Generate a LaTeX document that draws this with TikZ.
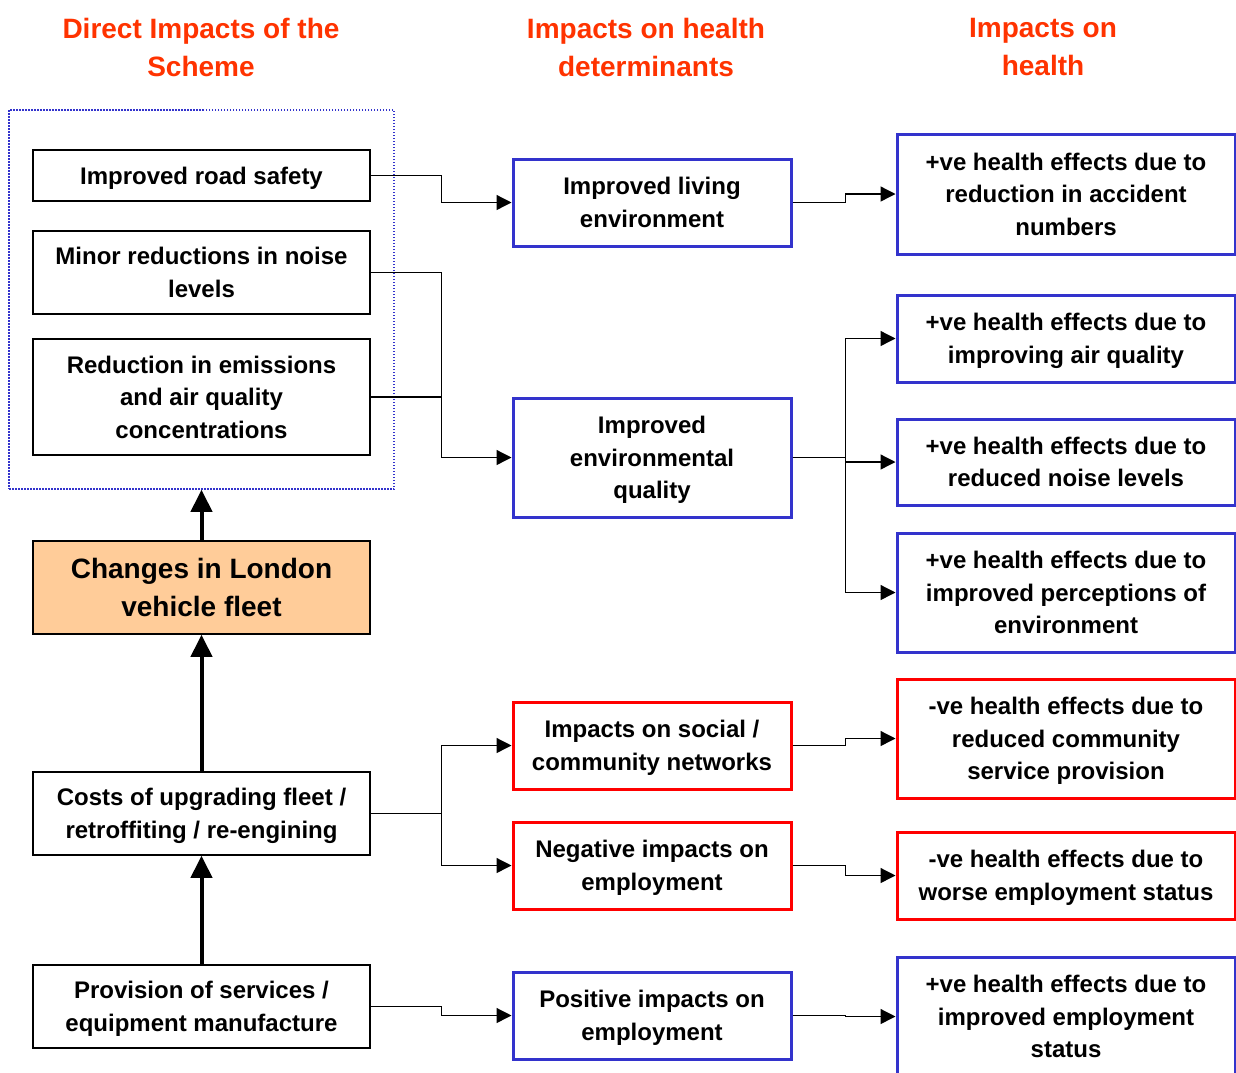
\documentclass[tikz,border=0pt]{standalone}
\usepackage{fontspec}
\setmainfont{Liberation Sans}
\usetikzlibrary{arrows.meta}
\definecolor{bblue}{RGB}{51,51,204}
\definecolor{rred}{RGB}{255,0,0}
\definecolor{hdr}{RGB}{255,51,0}
\definecolor{peach}{RGB}{255,204,153}
\begin{document}
\begin{tikzpicture}[x=1pt,y=-1pt,
  every node/.style={inner sep=0pt, align=center, font=\fontsize{24}{32.5}\selectfont\bfseries},
  hdrtxt/.style={font=\fontsize{28}{38}\selectfont\bfseries, text=hdr},
  blk/.style={draw=black, line width=1.5pt, fill=white, minimum width=337pt, text depth=-3.5pt},
  fleet/.style={draw=black, line width=1.5pt, fill=peach, minimum width=337pt, text depth=-3pt, font=\fontsize{28}{38}\selectfont\bfseries},
  blubox/.style={draw=bblue, line width=3pt, fill=white, text depth=-3.5pt},
  redbox/.style={draw=rred, line width=3pt, fill=white, text depth=-3.5pt},
  mid/.style={minimum width=278pt},
  rgt/.style={minimum width=338pt},
  grpbox/.style={draw=bblue, line width=1.5pt, dash pattern=on 1.5pt off 1.5pt, minimum width=385pt, minimum height=379pt},
  conn/.style={line width=1.3pt, -{Triangle[length=15pt,width=15pt]}},
  thickarr/.style={line width=4pt, -{Triangle[length=22pt,width=21pt]}}
]
\useasboundingbox (0,0) rectangle (1236,1072);

% headers
\node[hdrtxt] (h1) at (201,47) {Direct Impacts of the\\Scheme};
\node[hdrtxt] (h2) at (646,47) {Impacts on health\\determinants};
\node[hdrtxt] (h3) at (1043,47) {Impacts on\\health};

% group box
\node[grpbox] (grp) at (201.5,299.5) {};

% left column
\node[blk, minimum height=51pt] (rs) at (201.5,175.5) {Improved road safety};
\node[blk, minimum height=83pt] (nz) at (201.5,272.5) {Minor reductions in noise\\levels};
\node[blk, minimum height=116pt] (em) at (201.5,397) {Reduction in emissions\\and air quality\\concentrations};
\node[fleet, minimum height=93pt] (ch) at (201.5,587.5) {Changes in London\\vehicle fleet};
\node[blk, minimum height=83pt] (co) at (201.5,813.5) {Costs of upgrading fleet /\\retroffiting / re-engining};
\node[blk, minimum height=83pt] (pr) at (201.5,1006.5) {Provision of services /\\equipment manufacture};

% middle column
\node[blubox, mid, minimum height=87pt] (le) at (652,202.5) {Improved living\\environment};
\node[blubox, mid, minimum height=119pt] (eq) at (652,457.5) {Improved\\environmental\\quality};
\node[redbox, mid, minimum height=87pt] (so) at (652,745.5) {Impacts on social /\\community networks};
\node[redbox, mid, minimum height=87pt] (ne) at (652,865.5) {Negative impacts on\\employment};
\node[blubox, mid, minimum height=87pt] (pe) at (652,1015.5) {Positive impacts on\\employment};

% right column
\node[blubox, rgt, minimum height=120pt] (ac) at (1066,194) {+ve health effects due to\\reduction in accident\\numbers};
\node[blubox, rgt, minimum height=87pt] (aq) at (1066,338.5) {+ve health effects due to\\improving air quality};
\node[blubox, rgt, minimum height=86pt] (no) at (1066,462) {+ve health effects due to\\reduced noise levels};
\node[blubox, rgt, minimum height=119pt] (pc) at (1066,592.5) {+ve health effects due to\\improved perceptions of\\environment};
\node[redbox, rgt, minimum height=119pt] (cs) at (1066,738.5) {-ve health effects due to\\reduced community\\service provision};
\node[redbox, rgt, minimum height=87pt] (we) at (1066,875.5) {-ve health effects due to\\worse employment status};
\node[blubox, rgt, minimum height=119pt] (ie) at (1066,1016.5) {+ve health effects due to\\improved employment\\status};

% thick arrows
\draw[thickarr] (ch.north) -- (grp.south);
\draw[thickarr] (co.north) -- (ch.south);
\draw[thickarr] (pr.north) -- (co.south);

% connectors left -> middle
\draw[conn] (rs.east) -- ++(71,0) |- (le.west);
\draw[conn] (nz.east) -- ++(71,0) |- (eq.west);
\draw[line width=1.3pt] (em.east) -- ++(71,0);
\draw[conn] (co.east) -- ++(71,0) |- (so.west);
\draw[conn] (co.east) -- ++(71,0) |- (ne.west);
\draw[conn] (pr.east) -- ++(71,0) |- (pe.west);

% connectors middle -> right
\draw[conn] (le.east) -- ++(53,0) |- (ac.west);
\draw[conn] (eq.east) -- ++(53,0) |- (aq.west);
\draw[conn] (eq.east) -- ++(53,0) |- (no.west);
\draw[conn] (eq.east) -- ++(53,0) |- (pc.west);
\draw[conn] (so.east) -- ++(53,0) |- (cs.west);
\draw[conn] (ne.east) -- ++(53,0) |- (we.west);
\draw[conn] (pe.east) -- ++(53,0) |- (ie.west);
\end{tikzpicture}
\end{document}
